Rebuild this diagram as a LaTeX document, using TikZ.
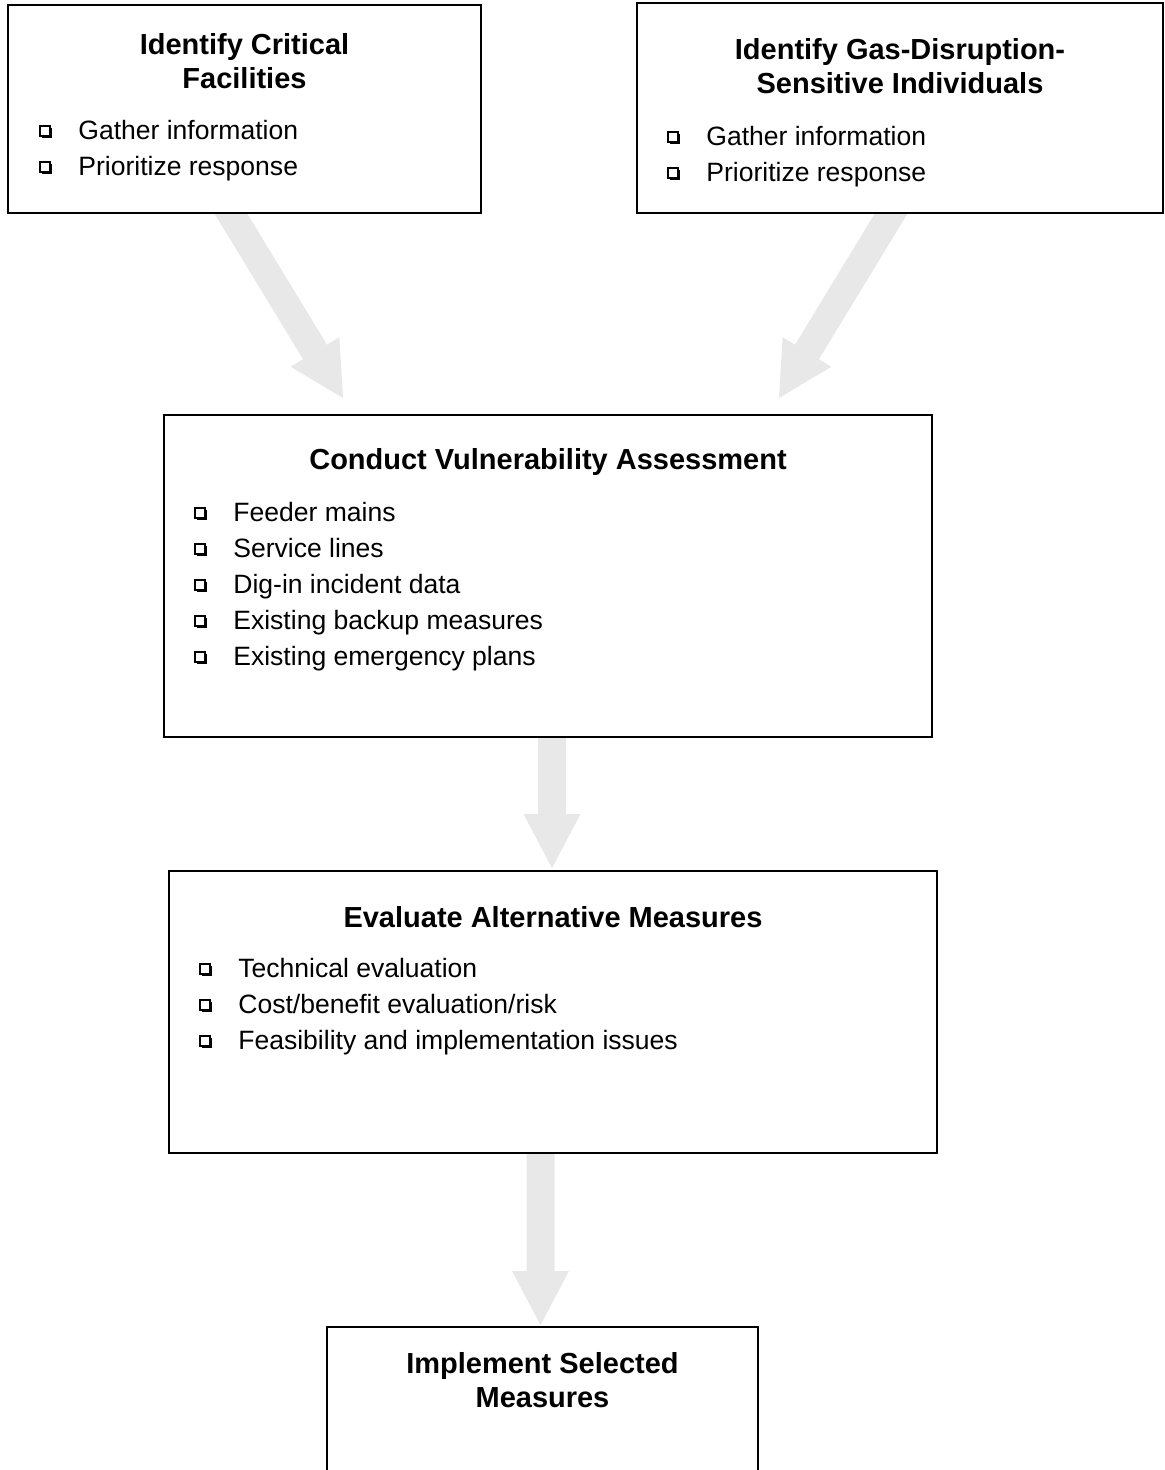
\documentclass[tikz,border=0pt]{standalone}
\usepackage{fontspec}
\setmainfont{Liberation Sans}
\usetikzlibrary{arrows.meta, positioning, backgrounds, shadows}
\definecolor{arrowgrey}{HTML}{E8E8E8}

\begin{document}
\begin{tikzpicture}[
  x=0.02cm, y=-0.02cm,
  node distance=0.55cm,
  box/.style={draw, line width=1.1pt, fill=white, inner sep=0pt},
  title/.style={font=\fontsize{16.5}{19.3}\selectfont\bfseries, align=center, inner sep=0pt},
  item/.style={font=\fontsize{15.1}{20.4}\selectfont, inner sep=0pt, text height=1em, text depth=0pt},
  chk/.style={draw, line width=0.6pt, fill=white, minimum size=0.2cm, inner sep=0pt,
    drop shadow={shadow xshift=0.04cm, shadow yshift=-0.04cm, fill=black, opacity=1}},
  fat/.style={line width=0.56cm, draw=arrowgrey,
    -{Triangle[length=1.08cm, width=1.14cm, line width=0pt]}}
]
  \useasboundingbox (0,0) rectangle (1165,1470);

  % boxes
  \node[box, minimum width=9.46cm, minimum height=4.16cm] (crit) at (244.5,109) {};
  \node[box, minimum width=10.52cm, minimum height=4.2cm] (gas) at (900,108) {};
  \node[box, minimum width=15.36cm, minimum height=6.44cm] (vuln) at (548,576) {};
  \node[box, minimum width=15.36cm, minimum height=5.64cm] (evalm) at (553,1012) {};
  \node[box, minimum width=8.62cm, minimum height=4.8cm] (impl) at (542.5,1447) {};

  % titles
  \node[title] (critt) at (244.5,61.5) {Identify Critical\\Facilities};
  \node[title] (gast) at (900,66.5) {Identify Gas-Disruption-\\Sensitive Individuals};
  \node[title] (vulnt) at (548,462) {Conduct Vulnerability Assessment};
  \node[title] (evalmt) at (553,917) {Evaluate Alternative Measures};
  \node[title] (implt) at (542.5,1380.5) {Implement Selected\\Measures};

  % check lists
  \foreach \t [count=\i] in {Gather information, Prioritize response} {
    \node[chk] (critb\i) at (45,{131+36*(\i-1)}) {};
    \node[item, right=of critb\i] (criti\i) {\t};
  }
  \foreach \t [count=\i] in {Gather information, Prioritize response} {
    \node[chk] (gasb\i) at (673,{137+36*(\i-1)}) {};
    \node[item, right=of gasb\i] (gasi\i) {\t};
  }
  \foreach \t [count=\i] in {Feeder mains, Service lines, Dig-in incident data,
      Existing backup measures, Existing emergency plans} {
    \node[chk] (vulnb\i) at (200,{513+36*(\i-1)}) {};
    \node[item, right=of vulnb\i] (vulni\i) {\t};
  }
  \foreach \t [count=\i] in {Technical evaluation, Cost/benefit evaluation/risk,
      Feasibility and implementation issues} {
    \node[chk] (evalmb\i) at (205,{969+36*(\i-1)}) {};
    \node[item, right=of evalmb\i] (evalmi\i) {\t};
  }

  % grey arrows behind the boxes
  \begin{scope}[on background layer]
    \draw[fat] ([xshift=-0.494cm, yshift=0.372cm]crit.south)
      -- ([xshift=-4.1cm, yshift=0.32cm]vuln.north);
    \draw[fat] ([xshift=0.044cm, yshift=0.372cm]gas.south)
      -- ([xshift=4.62cm, yshift=0.32cm]vuln.north);
    \draw[fat] ([xshift=0.08cm, yshift=0.2cm]vuln.south)
      -- ([xshift=-0.02cm, yshift=0.04cm]evalm.north);
    \draw[fat] ([xshift=-0.25cm, yshift=0.2cm]evalm.south)
      -- ([xshift=-0.04cm, yshift=0.02cm]impl.north);
  \end{scope}
\end{tikzpicture}
\end{document}
